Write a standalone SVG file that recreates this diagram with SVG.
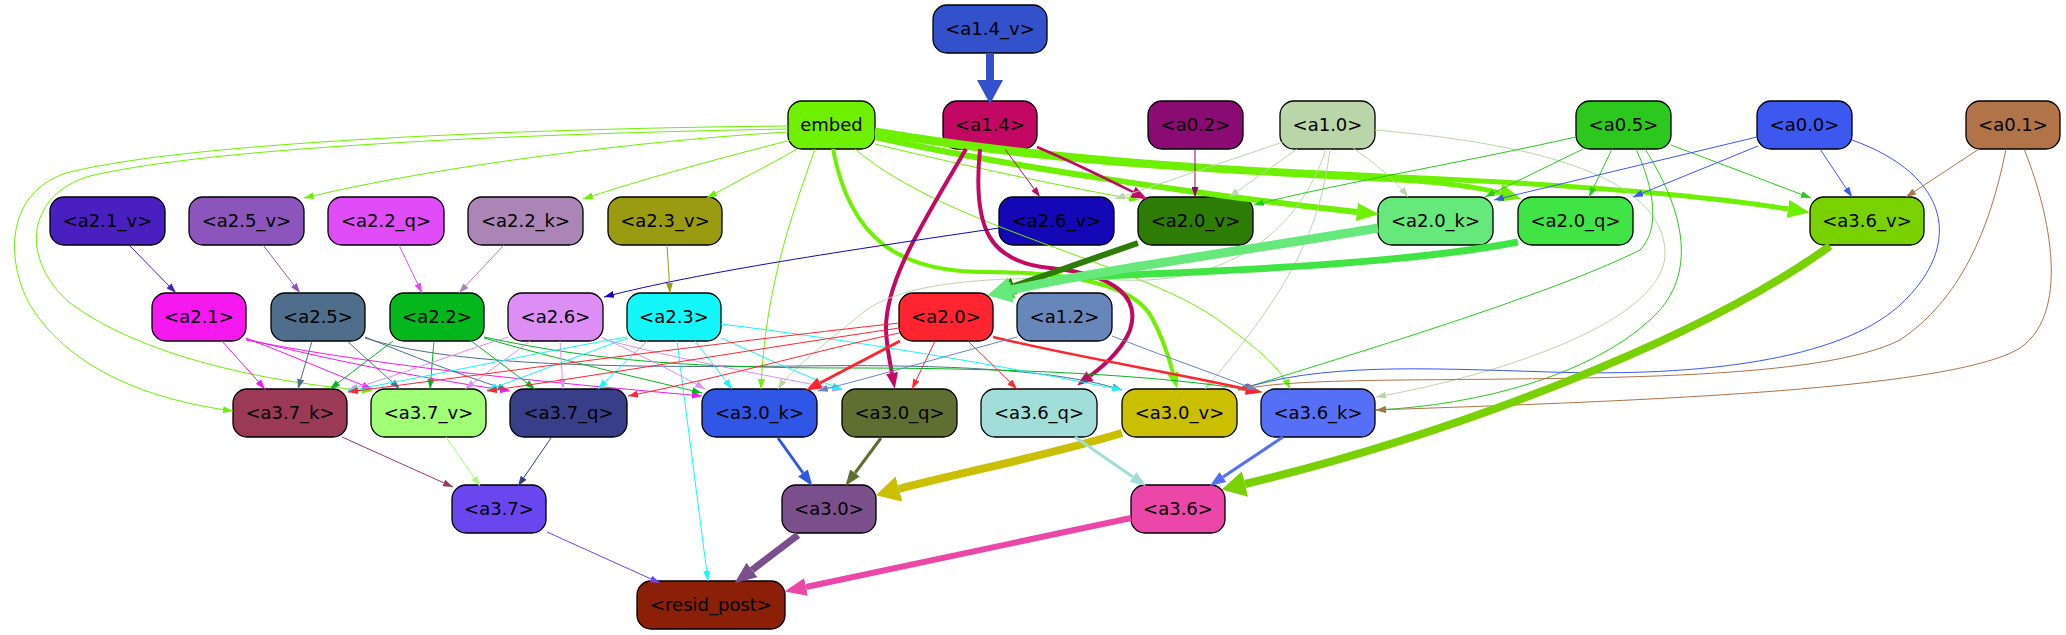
<svg xmlns="http://www.w3.org/2000/svg" width="2066" height="635" viewBox="0 0 2066 635">
<style>
.n rect{stroke:#000;stroke-width:1.3}
.n text{font-family:"DejaVu Sans","Liberation Sans",sans-serif;font-size:18px;text-anchor:middle;fill:#000}
#edges path{fill:none}
.w1{stroke-width:1}
</style>
<defs>
<marker id="s-emb" viewBox="0 0 10 10" refX="10" refY="5" markerWidth="10" markerHeight="7" markerUnits="userSpaceOnUse" orient="auto" preserveAspectRatio="none"><path d="M0,0L10,5L0,10z" fill="#6ef100"/></marker>
<marker id="s-a14" viewBox="0 0 10 10" refX="10" refY="5" markerWidth="10" markerHeight="7" markerUnits="userSpaceOnUse" orient="auto" preserveAspectRatio="none"><path d="M0,0L10,5L0,10z" fill="#c30863"/></marker>
<marker id="s-a02" viewBox="0 0 10 10" refX="10" refY="5" markerWidth="10" markerHeight="7" markerUnits="userSpaceOnUse" orient="auto" preserveAspectRatio="none"><path d="M0,0L10,5L0,10z" fill="#8a0b72"/></marker>
<marker id="s-a10" viewBox="0 0 10 10" refX="10" refY="5" markerWidth="10" markerHeight="7" markerUnits="userSpaceOnUse" orient="auto" preserveAspectRatio="none"><path d="M0,0L10,5L0,10z" fill="#bad6a8"/></marker>
<marker id="s-a05" viewBox="0 0 10 10" refX="10" refY="5" markerWidth="10" markerHeight="7" markerUnits="userSpaceOnUse" orient="auto" preserveAspectRatio="none"><path d="M0,0L10,5L0,10z" fill="#2cc81e"/></marker>
<marker id="s-a00" viewBox="0 0 10 10" refX="10" refY="5" markerWidth="10" markerHeight="7" markerUnits="userSpaceOnUse" orient="auto" preserveAspectRatio="none"><path d="M0,0L10,5L0,10z" fill="#3c58ef"/></marker>
<marker id="s-a01" viewBox="0 0 10 10" refX="10" refY="5" markerWidth="10" markerHeight="7" markerUnits="userSpaceOnUse" orient="auto" preserveAspectRatio="none"><path d="M0,0L10,5L0,10z" fill="#b07448"/></marker>
<marker id="s-a26v" viewBox="0 0 10 10" refX="10" refY="5" markerWidth="10" markerHeight="7" markerUnits="userSpaceOnUse" orient="auto" preserveAspectRatio="none"><path d="M0,0L10,5L0,10z" fill="#1407b5"/></marker>
<marker id="s-a23v" viewBox="0 0 10 10" refX="10" refY="5" markerWidth="10" markerHeight="7" markerUnits="userSpaceOnUse" orient="auto" preserveAspectRatio="none"><path d="M0,0L10,5L0,10z" fill="#9b9b11"/></marker>
<marker id="s-a21v" viewBox="0 0 10 10" refX="10" refY="5" markerWidth="10" markerHeight="7" markerUnits="userSpaceOnUse" orient="auto" preserveAspectRatio="none"><path d="M0,0L10,5L0,10z" fill="#4a1fc0"/></marker>
<marker id="s-a25v" viewBox="0 0 10 10" refX="10" refY="5" markerWidth="10" markerHeight="7" markerUnits="userSpaceOnUse" orient="auto" preserveAspectRatio="none"><path d="M0,0L10,5L0,10z" fill="#8b55bb"/></marker>
<marker id="s-a22q" viewBox="0 0 10 10" refX="10" refY="5" markerWidth="10" markerHeight="7" markerUnits="userSpaceOnUse" orient="auto" preserveAspectRatio="none"><path d="M0,0L10,5L0,10z" fill="#e14cf9"/></marker>
<marker id="s-a22k" viewBox="0 0 10 10" refX="10" refY="5" markerWidth="10" markerHeight="7" markerUnits="userSpaceOnUse" orient="auto" preserveAspectRatio="none"><path d="M0,0L10,5L0,10z" fill="#ac85b7"/></marker>
<marker id="s-a21" viewBox="0 0 10 10" refX="10" refY="5" markerWidth="10" markerHeight="7" markerUnits="userSpaceOnUse" orient="auto" preserveAspectRatio="none"><path d="M0,0L10,5L0,10z" fill="#f518ef"/></marker>
<marker id="s-a25" viewBox="0 0 10 10" refX="10" refY="5" markerWidth="10" markerHeight="7" markerUnits="userSpaceOnUse" orient="auto" preserveAspectRatio="none"><path d="M0,0L10,5L0,10z" fill="#4e6e8c"/></marker>
<marker id="s-a22" viewBox="0 0 10 10" refX="10" refY="5" markerWidth="10" markerHeight="7" markerUnits="userSpaceOnUse" orient="auto" preserveAspectRatio="none"><path d="M0,0L10,5L0,10z" fill="#03b71c"/></marker>
<marker id="s-a26" viewBox="0 0 10 10" refX="10" refY="5" markerWidth="10" markerHeight="7" markerUnits="userSpaceOnUse" orient="auto" preserveAspectRatio="none"><path d="M0,0L10,5L0,10z" fill="#dc8ef5"/></marker>
<marker id="s-a23" viewBox="0 0 10 10" refX="10" refY="5" markerWidth="10" markerHeight="7" markerUnits="userSpaceOnUse" orient="auto" preserveAspectRatio="none"><path d="M0,0L10,5L0,10z" fill="#14f7fa"/></marker>
<marker id="s-a20" viewBox="0 0 10 10" refX="10" refY="5" markerWidth="10" markerHeight="7" markerUnits="userSpaceOnUse" orient="auto" preserveAspectRatio="none"><path d="M0,0L10,5L0,10z" fill="#fe2530"/></marker>
<marker id="s-a12" viewBox="0 0 10 10" refX="10" refY="5" markerWidth="10" markerHeight="7" markerUnits="userSpaceOnUse" orient="auto" preserveAspectRatio="none"><path d="M0,0L10,5L0,10z" fill="#6787bb"/></marker>
<marker id="s-a37k" viewBox="0 0 10 10" refX="10" refY="5" markerWidth="10" markerHeight="7" markerUnits="userSpaceOnUse" orient="auto" preserveAspectRatio="none"><path d="M0,0L10,5L0,10z" fill="#9a3a57"/></marker>
<marker id="s-a37v" viewBox="0 0 10 10" refX="10" refY="5" markerWidth="10" markerHeight="7" markerUnits="userSpaceOnUse" orient="auto" preserveAspectRatio="none"><path d="M0,0L10,5L0,10z" fill="#a1fe76"/></marker>
<marker id="s-a37q" viewBox="0 0 10 10" refX="10" refY="5" markerWidth="10" markerHeight="7" markerUnits="userSpaceOnUse" orient="auto" preserveAspectRatio="none"><path d="M0,0L10,5L0,10z" fill="#383e88"/></marker>
<marker id="s-a37" viewBox="0 0 10 10" refX="10" refY="5" markerWidth="10" markerHeight="7" markerUnits="userSpaceOnUse" orient="auto" preserveAspectRatio="none"><path d="M0,0L10,5L0,10z" fill="#6a46ef"/></marker>
<marker id="m-emb" viewBox="0 0 10 10" refX="0" refY="5" markerWidth="16" markerHeight="12" markerUnits="userSpaceOnUse" orient="auto" preserveAspectRatio="none"><path d="M0,0L10,5L0,10z" fill="#6ef100"/></marker>
<marker id="m-a14" viewBox="0 0 10 10" refX="0" refY="5" markerWidth="16" markerHeight="12" markerUnits="userSpaceOnUse" orient="auto" preserveAspectRatio="none"><path d="M0,0L10,5L0,10z" fill="#c30863"/></marker>
<marker id="m-a20" viewBox="0 0 10 10" refX="0" refY="5" markerWidth="16" markerHeight="12" markerUnits="userSpaceOnUse" orient="auto" preserveAspectRatio="none"><path d="M0,0L10,5L0,10z" fill="#fe2530"/></marker>
<marker id="m-a30k" viewBox="0 0 10 10" refX="0" refY="5" markerWidth="16" markerHeight="12" markerUnits="userSpaceOnUse" orient="auto" preserveAspectRatio="none"><path d="M0,0L10,5L0,10z" fill="#2f56e5"/></marker>
<marker id="m-a30q" viewBox="0 0 10 10" refX="0" refY="5" markerWidth="16" markerHeight="12" markerUnits="userSpaceOnUse" orient="auto" preserveAspectRatio="none"><path d="M0,0L10,5L0,10z" fill="#5f6e31"/></marker>
<marker id="m-a36q" viewBox="0 0 10 10" refX="0" refY="5" markerWidth="16" markerHeight="12" markerUnits="userSpaceOnUse" orient="auto" preserveAspectRatio="none"><path d="M0,0L10,5L0,10z" fill="#a1ded9"/></marker>
<marker id="m-a36k" viewBox="0 0 10 10" refX="0" refY="5" markerWidth="16" markerHeight="12" markerUnits="userSpaceOnUse" orient="auto" preserveAspectRatio="none"><path d="M0,0L10,5L0,10z" fill="#5570f7"/></marker>
<marker id="l-emb" viewBox="0 0 10 10" refX="0" refY="5" markerWidth="22" markerHeight="18" markerUnits="userSpaceOnUse" orient="auto" preserveAspectRatio="none"><path d="M0,0L10,5L0,10z" fill="#6ef100"/></marker>
<marker id="l-a30" viewBox="0 0 10 10" refX="0" refY="5" markerWidth="22" markerHeight="18" markerUnits="userSpaceOnUse" orient="auto" preserveAspectRatio="none"><path d="M0,0L10,5L0,10z" fill="#7b4f8b"/></marker>
<marker id="l-a36" viewBox="0 0 10 10" refX="0" refY="5" markerWidth="22" markerHeight="18" markerUnits="userSpaceOnUse" orient="auto" preserveAspectRatio="none"><path d="M0,0L10,5L0,10z" fill="#ea47a8"/></marker>
<marker id="l-a20v" viewBox="0 0 10 10" refX="0" refY="5" markerWidth="22" markerHeight="18" markerUnits="userSpaceOnUse" orient="auto" preserveAspectRatio="none"><path d="M0,0L10,5L0,10z" fill="#2c7c05"/></marker>
<marker id="l-a20q" viewBox="0 0 10 10" refX="0" refY="5" markerWidth="22" markerHeight="18" markerUnits="userSpaceOnUse" orient="auto" preserveAspectRatio="none"><path d="M0,0L10,5L0,10z" fill="#40e545"/></marker>
<marker id="x-a30v" viewBox="0 0 10 10" refX="0" refY="5" markerWidth="24" markerHeight="26" markerUnits="userSpaceOnUse" orient="auto" preserveAspectRatio="none"><path d="M0,0L10,5L0,10z" fill="#cbbf02"/></marker>
<marker id="x-a36v" viewBox="0 0 10 10" refX="0" refY="5" markerWidth="24" markerHeight="26" markerUnits="userSpaceOnUse" orient="auto" preserveAspectRatio="none"><path d="M0,0L10,5L0,10z" fill="#79d100"/></marker>
<marker id="x-a20k" viewBox="0 0 10 10" refX="0" refY="5" markerWidth="24" markerHeight="26" markerUnits="userSpaceOnUse" orient="auto" preserveAspectRatio="none"><path d="M0,0L10,5L0,10z" fill="#66e97a"/></marker>
<marker id="x-a14v" viewBox="0 0 10 10" refX="0" refY="5" markerWidth="24" markerHeight="26" markerUnits="userSpaceOnUse" orient="auto" preserveAspectRatio="none"><path d="M0,0L10,5L0,10z" fill="#3451cc"/></marker>
</defs>
<rect width="2066" height="635" fill="#fff"/>

<g id="nodes">
<g id="n-a1_4_v" class="n"><rect x="933" y="5" width="114" height="48" rx="14" fill="#3451cc"/><text x="990" y="35">&lt;a1.4_v&gt;</text></g>
<g id="n-embed" class="n"><rect x="788" y="101" width="87" height="48" rx="14" fill="#6ef100"/><text x="831.5" y="131">embed</text></g>
<g id="n-a1_4" class="n"><rect x="943" y="101" width="94" height="48" rx="14" fill="#c30863"/><text x="990" y="131">&lt;a1.4&gt;</text></g>
<g id="n-a0_2" class="n"><rect x="1148" y="101" width="95" height="48" rx="14" fill="#8a0b72"/><text x="1195.5" y="131">&lt;a0.2&gt;</text></g>
<g id="n-a1_0" class="n"><rect x="1280" y="101" width="95" height="48" rx="14" fill="#bad6a8"/><text x="1327.5" y="131">&lt;a1.0&gt;</text></g>
<g id="n-a0_5" class="n"><rect x="1576" y="101" width="95" height="48" rx="14" fill="#2cc81e"/><text x="1623.5" y="131">&lt;a0.5&gt;</text></g>
<g id="n-a0_0" class="n"><rect x="1757" y="101" width="95" height="48" rx="14" fill="#3c58ef"/><text x="1804.5" y="131">&lt;a0.0&gt;</text></g>
<g id="n-a0_1" class="n"><rect x="1966" y="101" width="94" height="48" rx="14" fill="#b07448"/><text x="2013" y="131">&lt;a0.1&gt;</text></g>
<g id="n-a2_1_v" class="n"><rect x="50" y="197" width="115" height="48" rx="14" fill="#4a1fc0"/><text x="107.5" y="227">&lt;a2.1_v&gt;</text></g>
<g id="n-a2_5_v" class="n"><rect x="189" y="197" width="115" height="48" rx="14" fill="#8b55bb"/><text x="246.5" y="227">&lt;a2.5_v&gt;</text></g>
<g id="n-a2_2_q" class="n"><rect x="328" y="197" width="116" height="48" rx="14" fill="#e14cf9"/><text x="386" y="227">&lt;a2.2_q&gt;</text></g>
<g id="n-a2_2_k" class="n"><rect x="468" y="197" width="115" height="48" rx="14" fill="#ac85b7"/><text x="525.5" y="227">&lt;a2.2_k&gt;</text></g>
<g id="n-a2_3_v" class="n"><rect x="608" y="197" width="114" height="48" rx="14" fill="#9b9b11"/><text x="665" y="227">&lt;a2.3_v&gt;</text></g>
<g id="n-a2_6_v" class="n"><rect x="999" y="197" width="115" height="48" rx="14" fill="#1407b5"/><text x="1056.5" y="227">&lt;a2.6_v&gt;</text></g>
<g id="n-a2_0_v" class="n"><rect x="1138" y="197" width="115" height="48" rx="14" fill="#2c7c05"/><text x="1195.5" y="227">&lt;a2.0_v&gt;</text></g>
<g id="n-a2_0_k" class="n"><rect x="1378" y="197" width="115" height="48" rx="14" fill="#66e97a"/><text x="1435.5" y="227">&lt;a2.0_k&gt;</text></g>
<g id="n-a2_0_q" class="n"><rect x="1518" y="197" width="115" height="48" rx="14" fill="#40e545"/><text x="1575.5" y="227">&lt;a2.0_q&gt;</text></g>
<g id="n-a3_6_v" class="n"><rect x="1810" y="197" width="114" height="48" rx="14" fill="#79d100"/><text x="1867" y="227">&lt;a3.6_v&gt;</text></g>
<g id="n-a2_1" class="n"><rect x="152" y="293" width="94" height="48" rx="14" fill="#f518ef"/><text x="199" y="323">&lt;a2.1&gt;</text></g>
<g id="n-a2_5" class="n"><rect x="271" y="293" width="94" height="48" rx="14" fill="#4e6e8c"/><text x="318" y="323">&lt;a2.5&gt;</text></g>
<g id="n-a2_2" class="n"><rect x="390" y="293" width="94" height="48" rx="14" fill="#03b71c"/><text x="437" y="323">&lt;a2.2&gt;</text></g>
<g id="n-a2_6" class="n"><rect x="508" y="293" width="95" height="48" rx="14" fill="#dc8ef5"/><text x="555.5" y="323">&lt;a2.6&gt;</text></g>
<g id="n-a2_3" class="n"><rect x="627" y="293" width="94" height="48" rx="14" fill="#14f7fa"/><text x="674" y="323">&lt;a2.3&gt;</text></g>
<g id="n-a2_0" class="n"><rect x="899" y="293" width="94" height="48" rx="14" fill="#fe2530"/><text x="946" y="323">&lt;a2.0&gt;</text></g>
<g id="n-a1_2" class="n"><rect x="1017" y="293" width="95" height="48" rx="14" fill="#6787bb"/><text x="1064.5" y="323">&lt;a1.2&gt;</text></g>
<g id="n-a3_7_k" class="n"><rect x="233" y="389" width="114" height="48" rx="14" fill="#9a3a57"/><text x="290" y="419">&lt;a3.7_k&gt;</text></g>
<g id="n-a3_7_v" class="n"><rect x="371" y="389" width="115" height="48" rx="14" fill="#a1fe76"/><text x="428.5" y="419">&lt;a3.7_v&gt;</text></g>
<g id="n-a3_7_q" class="n"><rect x="510" y="389" width="117" height="48" rx="14" fill="#383e88"/><text x="568.5" y="419">&lt;a3.7_q&gt;</text></g>
<g id="n-a3_0_k" class="n"><rect x="702" y="389" width="115" height="48" rx="14" fill="#2f56e5"/><text x="759.5" y="419">&lt;a3.0_k&gt;</text></g>
<g id="n-a3_0_q" class="n"><rect x="842" y="389" width="115" height="48" rx="14" fill="#5f6e31"/><text x="899.5" y="419">&lt;a3.0_q&gt;</text></g>
<g id="n-a3_6_q" class="n"><rect x="981" y="389" width="116" height="48" rx="14" fill="#a1ded9"/><text x="1039" y="419">&lt;a3.6_q&gt;</text></g>
<g id="n-a3_0_v" class="n"><rect x="1122" y="389" width="115" height="48" rx="14" fill="#cbbf02"/><text x="1179.5" y="419">&lt;a3.0_v&gt;</text></g>
<g id="n-a3_6_k" class="n"><rect x="1261" y="389" width="114" height="48" rx="14" fill="#5570f7"/><text x="1318" y="419">&lt;a3.6_k&gt;</text></g>
<g id="n-a3_7" class="n"><rect x="452" y="485" width="94" height="48" rx="14" fill="#6a46ef"/><text x="499" y="515">&lt;a3.7&gt;</text></g>
<g id="n-a3_0" class="n"><rect x="782" y="485" width="94" height="48" rx="14" fill="#7b4f8b"/><text x="829" y="515">&lt;a3.0&gt;</text></g>
<g id="n-a3_6" class="n"><rect x="1131" y="485" width="94" height="48" rx="14" fill="#ea47a8"/><text x="1178" y="515">&lt;a3.6&gt;</text></g>
<g id="n-resid_post" class="n"><rect x="637" y="581" width="148" height="48" rx="14" fill="#8c1f08"/><text x="711" y="611">&lt;resid_post&gt;</text></g>
</g>

<g id="edges">
<path d="M990,53 L990,80" stroke="#3451cc" stroke-width="8" marker-end="url(#x-a14v)"/>
<!-- embed -->
<path d="M788,126 C560,128 200,140 70,172 C5,190 5,260 30,305 C70,370 150,400 233,411" stroke="#6ef100" class="w1" marker-end="url(#s-emb)"/>
<path d="M788,129 C560,133 220,145 90,176 C25,195 20,260 70,303 C140,355 260,382 372,391" stroke="#6ef100" class="w1" marker-end="url(#s-emb)"/>
<path d="M788,132 C650,140 440,165 304,198" stroke="#6ef100" class="w1" marker-end="url(#s-emb)"/>
<path d="M791,140 C720,158 640,180 583,199" stroke="#6ef100" class="w1" marker-end="url(#s-emb)"/>
<path d="M797,149 C770,165 735,182 707,198" stroke="#6ef100" class="w1" marker-end="url(#s-emb)"/>
<path d="M815,149 C790,220 765,290 761,389" stroke="#6ef100" class="w1" marker-end="url(#s-emb)"/>
<path d="M875,144 C960,165 1070,188 1139,200" stroke="#6ef100" class="w1" marker-end="url(#s-emb)"/>
<path d="M855,149 C950,230 1150,265 1225,325 C1260,350 1282,370 1290,389" stroke="#6ef100" class="w1" marker-end="url(#s-emb)"/>
<path d="M833,149 C850,240 900,272 985,272 C1070,272 1135,285 1152,318 C1163,338 1168,354 1173,373" stroke="#6ef100" stroke-width="4" marker-end="url(#m-emb)"/>
<path d="M875,137 C1000,165 1200,195 1357,212" stroke="#6ef100" stroke-width="6" marker-end="url(#l-emb)"/>
<path d="M875,133 C1050,165 1250,172 1400,180 C1450,183 1478,187 1500,193" stroke="#6ef100" stroke-width="5" marker-end="url(#l-emb)"/>
<path d="M875,130 C1050,160 1250,170 1400,177 C1600,186 1720,198 1788,209" stroke="#6ef100" stroke-width="5" marker-end="url(#l-emb)"/>
<!-- a1.4 -->
<path d="M1005,149 L1040,197" stroke="#c30863" class="w1" marker-end="url(#s-a14)"/>
<path d="M1037,147 C1075,163 1105,178 1133,192" stroke="#c30863" stroke-width="2.5" marker-end="url(#m-a14)"/>
<path d="M966,149 C925,220 885,280 886,330 C887,350 890,362 892,373" stroke="#c30863" stroke-width="4" marker-end="url(#m-a14)"/>
<path d="M980,149 C972,230 990,262 1050,268 C1120,275 1140,300 1130,330 C1122,350 1105,365 1090,376" stroke="#c30863" stroke-width="4" marker-end="url(#m-a14)"/>
<!-- a0.2 -->
<path d="M1195,149 L1195,197" stroke="#8a0b72" class="w1" marker-end="url(#s-a02)"/>
<!-- a1.0 -->
<path d="M1283,142 L1115,199" stroke="#bad6a8" class="w1" marker-end="url(#s-a10)"/>
<path d="M1297,149 L1229,197" stroke="#bad6a8" class="w1" marker-end="url(#s-a10)"/>
<path d="M1353,148 C1375,163 1395,180 1408,197" stroke="#bad6a8" class="w1" marker-end="url(#s-a10)"/>
<path d="M1326,149 C1300,230 1230,285 1120,280 C1000,275 900,280 860,315 C830,340 790,370 778,389" stroke="#bad6a8" class="w1" marker-end="url(#s-a10)"/>
<path d="M1330,149 C1320,230 1290,290 1205,389" stroke="#bad6a8" class="w1" marker-end="url(#s-a10)"/>
<path d="M1375,130 C1550,145 1660,180 1665,250 C1670,320 1500,375 1376,397" stroke="#bad6a8" class="w1" marker-end="url(#s-a10)"/>
<!-- a0.5 -->
<path d="M1576,137 C1450,165 1330,185 1254,205" stroke="#2cc81e" class="w1" marker-end="url(#s-a05)"/>
<path d="M1583,149 L1485,197" stroke="#2cc81e" class="w1" marker-end="url(#s-a05)"/>
<path d="M1612,149 L1589,197" stroke="#2cc81e" class="w1" marker-end="url(#s-a05)"/>
<path d="M1671,145 L1811,198" stroke="#2cc81e" class="w1" marker-end="url(#s-a05)"/>
<path d="M1636,149 C1655,190 1660,230 1640,250 C1550,295 1350,355 1238,390" stroke="#2cc81e" class="w1" marker-end="url(#s-a05)"/>
<path d="M1645,149 C1690,220 1695,280 1650,320 C1590,375 1480,405 1376,410" stroke="#2cc81e" class="w1" marker-end="url(#s-a05)"/>
<!-- a0.0 -->
<path d="M1757,137 L1494,200" stroke="#3c58ef" class="w1" marker-end="url(#s-a00)"/>
<path d="M1758,146 L1633,197" stroke="#3c58ef" class="w1" marker-end="url(#s-a00)"/>
<path d="M1820,149 L1852,197" stroke="#3c58ef" class="w1" marker-end="url(#s-a00)"/>
<path d="M1852,140 C1950,175 1965,245 1900,305 C1840,360 1700,377 1550,372 C1420,368 1320,363 1238,390" stroke="#3c58ef" class="w1" marker-end="url(#s-a00)"/>
<!-- a0.1 -->
<path d="M1979,149 L1906,197" stroke="#b07448" class="w1" marker-end="url(#s-a01)"/>
<path d="M2006,149 C1990,230 1960,300 1900,340 C1820,380 1600,378 1400,380 C1320,381 1270,383 1238,390" stroke="#b07448" class="w1" marker-end="url(#s-a01)"/>
<path d="M2024,149 C2045,200 2075,310 2020,348 C1950,392 1600,402 1376,410" stroke="#b07448" class="w1" marker-end="url(#s-a01)"/>
<!-- row2 -> row3 -->
<path d="M999,228 C850,250 700,272 604,297" stroke="#1407b5" class="w1" marker-end="url(#s-a26v)"/>
<path d="M667,245 L670,293" stroke="#9b9b11" class="w1" marker-end="url(#s-a23v)"/>
<path d="M129,245 L176,293" stroke="#4a1fc0" class="w1" marker-end="url(#s-a21v)"/>
<path d="M263,245 L300,293" stroke="#8b55bb" class="w1" marker-end="url(#s-a25v)"/>
<path d="M399,245 L422,293" stroke="#e14cf9" class="w1" marker-end="url(#s-a22q)"/>
<path d="M504,245 L459,293" stroke="#ac85b7" class="w1" marker-end="url(#s-a22k)"/>
<path d="M1138,243 L1014,286" stroke="#2c7c05" stroke-width="6" marker-end="url(#l-a20v)"/>
<path d="M1518,242 C1400,265 1200,272 1100,276 C1060,278 1032,284 1013,290" stroke="#40e545" stroke-width="7" marker-end="url(#l-a20q)"/>
<path d="M1378,228 C1250,250 1100,270 1011,290" stroke="#66e97a" stroke-width="9" marker-end="url(#x-a20k)"/>
<!-- a2.1 -->
<path d="M222,341 L265,389" stroke="#f518ef" class="w1" marker-end="url(#s-a21)"/>
<path d="M246,338 C290,355 330,372 372,389" stroke="#f518ef" class="w1" marker-end="url(#s-a21)"/>
<path d="M246,339 C330,360 420,378 510,391" stroke="#f518ef" class="w1" marker-end="url(#s-a21)"/>
<path d="M246,340 C400,370 580,385 702,396" stroke="#f518ef" class="w1" marker-end="url(#s-a21)"/>
<!-- a2.5 -->
<path d="M312,341 L298,389" stroke="#4e6e8c" class="w1" marker-end="url(#s-a25)"/>
<path d="M347,341 L400,389" stroke="#4e6e8c" class="w1" marker-end="url(#s-a25)"/>
<path d="M365,337 C410,355 460,375 508,390" stroke="#4e6e8c" class="w1" marker-end="url(#s-a25)"/>
<path d="M365,338 C450,365 600,368 800,366 C950,364 1060,370 1122,390" stroke="#4e6e8c" class="w1" marker-end="url(#s-a25)"/>
<!-- a2.2 -->
<path d="M393,341 L330,389" stroke="#03b71c" class="w1" marker-end="url(#s-a22)"/>
<path d="M434,341 L430,389" stroke="#03b71c" class="w1" marker-end="url(#s-a22)"/>
<path d="M470,340 L535,389" stroke="#03b71c" class="w1" marker-end="url(#s-a22)"/>
<path d="M484,338 C560,360 640,378 702,393" stroke="#03b71c" class="w1" marker-end="url(#s-a22)"/>
<path d="M484,337 C600,362 700,368 850,368 C1050,368 1180,378 1262,392" stroke="#03b71c" class="w1" marker-end="url(#s-a22)"/>
<!-- a2.6 -->
<path d="M508,337 C450,355 400,375 348,390" stroke="#dc8ef5" class="w1" marker-end="url(#s-a26)"/>
<path d="M530,341 L465,389" stroke="#dc8ef5" class="w1" marker-end="url(#s-a26)"/>
<path d="M560,341 L563,389" stroke="#dc8ef5" class="w1" marker-end="url(#s-a26)"/>
<path d="M601,337 C640,355 675,372 705,389" stroke="#dc8ef5" class="w1" marker-end="url(#s-a26)"/>
<path d="M603,339 C680,360 780,378 842,390" stroke="#dc8ef5" class="w1" marker-end="url(#s-a26)"/>
<!-- a2.3 -->
<path d="M627,337 C550,350 450,372 348,391" stroke="#14f7fa" class="w1" marker-end="url(#s-a23)"/>
<path d="M628,338 C580,355 530,375 487,390" stroke="#14f7fa" class="w1" marker-end="url(#s-a23)"/>
<path d="M647,341 L598,389" stroke="#14f7fa" class="w1" marker-end="url(#s-a23)"/>
<path d="M677,341 L708,581" stroke="#14f7fa" class="w1" marker-end="url(#s-a23)"/>
<path d="M695,341 L732,389" stroke="#14f7fa" class="w1" marker-end="url(#s-a23)"/>
<path d="M721,338 C760,355 800,375 842,389" stroke="#14f7fa" class="w1" marker-end="url(#s-a23)"/>
<path d="M721,324 C850,340 1000,365 1122,390" stroke="#14f7fa" class="w1" marker-end="url(#s-a23)"/>
<!-- a2.0 -->
<path d="M899,323 C700,345 500,372 348,392" stroke="#fe2530" class="w1" marker-end="url(#s-a20)"/>
<path d="M899,328 C750,350 600,375 487,391" stroke="#fe2530" class="w1" marker-end="url(#s-a20)"/>
<path d="M899,333 C820,350 720,378 628,396" stroke="#fe2530" class="w1" marker-end="url(#s-a20)"/>
<path d="M900,341 L820,383" stroke="#fe2530" stroke-width="3" marker-end="url(#m-a20)"/>
<path d="M935,341 L912,389" stroke="#fe2530" class="w1" marker-end="url(#s-a20)"/>
<path d="M968,341 L1017,389" stroke="#fe2530" class="w1" marker-end="url(#s-a20)"/>
<path d="M993,337 C1080,358 1170,372 1246,389" stroke="#fe2530" stroke-width="2.5" marker-end="url(#m-a20)"/>
<!-- a1.2 -->
<path d="M1017,337 C950,355 880,375 818,391" stroke="#6787bb" class="w1" marker-end="url(#s-a12)"/>
<path d="M1112,336 C1160,355 1210,372 1257,390" stroke="#6787bb" class="w1" marker-end="url(#s-a12)"/>
<!-- row4 -> row5 -->
<path d="M342,437 L453,487" stroke="#9a3a57" class="w1" marker-end="url(#s-a37k)"/>
<path d="M446,437 L480,486" stroke="#a1fe76" class="w1" marker-end="url(#s-a37v)"/>
<path d="M551,438 L518,486" stroke="#383e88" class="w1" marker-end="url(#s-a37q)"/>
<path d="M778,438 L803,473" stroke="#2f56e5" stroke-width="3" marker-end="url(#m-a30k)"/>
<path d="M881,438 L855,473" stroke="#5f6e31" stroke-width="3" marker-end="url(#m-a30q)"/>
<path d="M1122,433 C1050,455 950,475 899,489" stroke="#cbbf02" stroke-width="8" marker-end="url(#x-a30v)"/>
<path d="M1075,437 L1133,477" stroke="#a1ded9" stroke-width="3" marker-end="url(#m-a36q)"/>
<path d="M1283,437 L1223,477" stroke="#5570f7" stroke-width="3" marker-end="url(#m-a36k)"/>
<path d="M1830,246 C1700,340 1450,435 1245,484" stroke="#79d100" stroke-width="8" marker-end="url(#x-a36v)"/>
<!-- row5 -> resid_post -->
<path d="M547,532 L660,583" stroke="#6a46ef" class="w1" marker-end="url(#s-a37)"/>
<path d="M798,535 L752,570" stroke="#7b4f8b" stroke-width="7" marker-end="url(#l-a30)"/>
<path d="M1131,518 L806,587" stroke="#ea47a8" stroke-width="6" marker-end="url(#l-a36)"/>
</g>
</svg>
